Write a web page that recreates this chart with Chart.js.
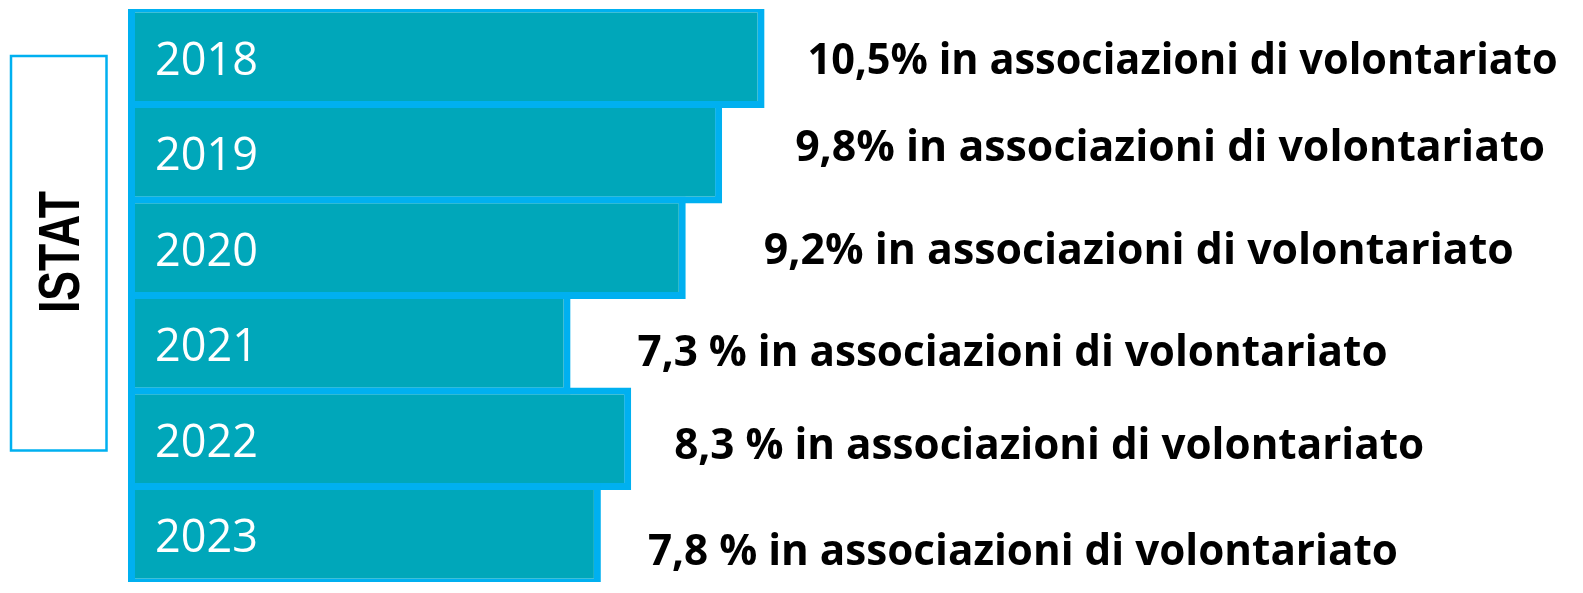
<!DOCTYPE html>
<html>
<head>
<meta charset="utf-8">
<script src="https://cdn.jsdelivr.net/npm/chart.js@4.4.1/dist/chart.umd.min.js"></script>
<style>
  html, body { margin: 0; padding: 0; background: #fff; overflow: hidden; }
  #wrap { position: relative; width: 1583px; height: 593px; }
</style>
</head>
<body>
<div id="wrap"><canvas id="chart"></canvas></div>
<script>
  "use strict";

  // data
  const years = ["2018", "2019", "2020", "2021", "2022", "2023"];
  const shares = [10.5, 9.8, 9.2, 7.3, 8.3, 7.8];
  const captions = [
    "10,5% in associazioni di volontariato",
    "9,8% in associazioni di volontariato",
    "9,2% in associazioni di volontariato",
    "7,3 % in associazioni di volontariato",
    "8,3 % in associazioni di volontariato",
    "7,8 % in associazioni di volontariato"
  ];
  const source = "ISTAT";

  // layout tweaks for the captions (gap after bar end, vertical nudge)
  const captionGap = [43, 73, 78, 67, 43, 47];
  const captionNudge = [2, -7, 1, 7, 5, 15];

  const teal = "#00a7ba";
  const sky = "#00b0f0";

  const labelsPlugin = {
    id: "labels",
    afterDatasetsDraw(chart) {
      const ctx = chart.ctx;
      const bars = chart.getDatasetMeta(0).data;
      ctx.save();
      bars.forEach((bar, i) => {
        // year inside the bar
        ctx.fillStyle = "#ffffff";
        ctx.font = "400 45px 'Open Sans', sans-serif";
        ctx.textAlign = "left";
        ctx.textBaseline = "alphabetic";
        ctx.fillText(years[i], bar.base + 27, bar.y + 18);

        // caption right of the bar
        ctx.fillStyle = "#000000";
        ctx.font = "700 43px 'Open Sans', sans-serif";
        ctx.fillText(captions[i], bar.x + captionGap[i], bar.y + captionNudge[i] + 15.5, 750);
      });
      ctx.restore();
    },
    afterDraw(chart) {
      const ctx = chart.ctx;
      ctx.save();
      ctx.strokeStyle = sky;
      ctx.lineWidth = 2.5;
      ctx.strokeRect(11, 56, 95.5, 394.5);
      ctx.translate(58.5, 252);
      ctx.rotate(-Math.PI / 2);
      ctx.fillStyle = "#000000";
      ctx.font = "700 57px 'Liberation Sans', Arial, sans-serif";
      ctx.textAlign = "center";
      ctx.textBaseline = "alphabetic";
      ctx.fillText(source, 0, 20.5, 122);
      ctx.restore();
    }
  };

  new Chart(document.getElementById("chart"), {
    type: "bar",
    data: {
      labels: years,
      datasets: [{
        data: shares,
        backgroundColor: teal,
        borderColor: sky,
        borderWidth: 7,
        borderSkipped: false,
        categoryPercentage: 1,
        barPercentage: 1.073
      }]
    },
    options: {
      indexAxis: "y",
      responsive: true,
      maintainAspectRatio: false,
      animation: false,
      layout: { padding: { top: 9, bottom: 11, left: 128, right: 0 } },
      plugins: {
        legend: { display: false },
        tooltip: { enabled: false }
      },
      scales: {
        x: { display: false, min: 0, max: 24 },
        y: { display: false, grid: { display: false } }
      }
    },
    plugins: [labelsPlugin]
  });
</script>
</body>
</html>
